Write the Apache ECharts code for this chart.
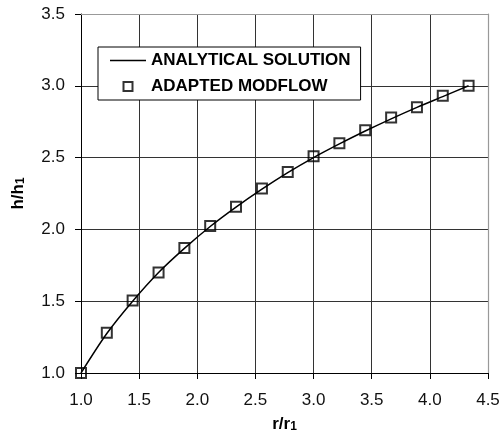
<!DOCTYPE html>
<html>
<head>
<meta charset="utf-8">
<script src="https://cdn.jsdelivr.net/npm/echarts@6/dist/echarts.min.js"></script>
<style>
  html, body { margin: 0; padding: 0; background: #fff; }
  #chart { width: 504px; height: 446px; }
</style>
</head>
<body>
<div id="chart"></div>
<script>
// r/r1 positions of the model cells
const rValues = [1.0, 1.222, 1.444, 1.667, 1.889, 2.111, 2.333, 2.556, 2.778, 3.0, 3.222, 3.444, 3.667, 3.889, 4.111, 4.333]
// h/h1
const hAnalytic = [1.0, 1.275, 1.50, 1.70, 1.868, 2.02, 2.155, 2.28, 2.395, 2.50, 2.595, 2.685, 2.77, 2.85, 2.925, 3.0]
const hModflow = [1.0, 1.28, 1.505, 1.70, 1.87, 2.024, 2.157, 2.285, 2.40, 2.51, 2.60, 2.69, 2.78, 2.85, 2.93, 3.0]

const xTicks = { min: 1.0, max: 4.5, interval: 0.5 }
const yTicks = { min: 1.0, max: 3.5, interval: 0.5 }

const font = 'Liberation Sans, Arial, sans-serif'
const squarePath = 'path://M0,0L10,0L10,10L0,10Z'
const dashPath = 'path://M0,0L36,0L36,1.6L0,1.6Z'

const chart = echarts.init(document.getElementById('chart'))

const titleRich = {
  a: { fontFamily: font, fontSize: 17, fontWeight: 'bold', color: '#000', lineHeight: 24, verticalAlign: 'bottom' },
  b: { fontFamily: font, fontSize: 12, fontWeight: 'bold', color: '#000', lineHeight: 12, verticalAlign: 'bottom' }
}

const valueAxis = (ticks, extra) => Object.assign({
  type: 'value',
  min: ticks.min,
  max: ticks.max,
  interval: ticks.interval,
  axisLine: { show: true, onZero: false, lineStyle: { color: '#000', width: 1 } },
  axisTick: { show: true, inside: false, length: 6, lineStyle: { color: '#000' } },
  splitLine: { show: true, showMinLine: false, showMaxLine: false, lineStyle: { color: '#333', width: 1 } }
}, extra)

const borderAxis = (ticks, extra) => Object.assign({
  type: 'value',
  min: ticks.min,
  max: ticks.max,
  interval: ticks.interval,
  axisLine: { show: true, onZero: false, lineStyle: { color: '#999', width: 1.2 } },
  axisTick: { show: false },
  axisLabel: { show: false },
  splitLine: { show: false }
}, extra)

chart.setOption({
  animation: false,
  backgroundColor: '#fff',
  grid: { left: 81, right: 16, top: 14, bottom: 73, containLabel: false },
  legend: {
    orient: 'vertical',
    left: 98,
    top: 47,
    padding: [5, 10, 5, 12],
    itemGap: 9,
    itemWidth: 36,
    itemHeight: 9,
    itemTextGap: 6,
    symbolKeepAspect: true,
    backgroundColor: '#fff',
    borderColor: '#000',
    borderWidth: 1,
    textStyle: { color: '#000', fontFamily: font, fontSize: 17, fontWeight: 'bold' },
    data: [
      { name: 'ANALYTICAL SOLUTION', icon: dashPath, itemStyle: { color: '#000', borderWidth: 0 } },
      { name: 'ADAPTED MODFLOW', icon: squarePath }
    ]
  },
  xAxis: [
    valueAxis(xTicks, {
      position: 'bottom',
      name: '{a|r/r}{b|1}',
      nameLocation: 'middle',
      nameGap: 36,
      nameTextStyle: { rich: titleRich },
      axisLabel: { color: '#111', fontFamily: font, fontSize: 17, margin: 19, formatter: v => v.toFixed(1) }
    }),
    borderAxis(xTicks, { position: 'top' })
  ],
  yAxis: [
    valueAxis(yTicks, {
      position: 'left',
      name: '{a|h/h}{b|1}',
      nameLocation: 'middle',
      nameRotate: 90,
      nameGap: 54,
      nameTextStyle: { rich: titleRich },
      axisLabel: { color: '#111', fontFamily: font, fontSize: 17, margin: 16, formatter: v => v.toFixed(1) }
    }),
    borderAxis(yTicks, { position: 'right' })
  ],
  series: [
    {
      name: 'ANALYTICAL SOLUTION',
      type: 'line',
      xAxisIndex: 0,
      yAxisIndex: 0,
      data: rValues.map((r, i) => [r, hAnalytic[i]]),
      smooth: 0.3,
      symbol: 'none',
      lineStyle: { color: '#000', width: 1.5 },
      itemStyle: { color: '#000' },
      z: 3
    },
    {
      name: 'ADAPTED MODFLOW',
      type: 'scatter',
      xAxisIndex: 0,
      yAxisIndex: 0,
      data: rValues.map((r, i) => [r, hModflow[i]]),
      symbol: squarePath,
      symbolKeepAspect: true,
      symbolSize: 10,
      itemStyle: { color: 'rgba(0,0,0,0)', borderColor: '#000', borderWidth: 2 },
      z: 4
    }
  ]
})
</script>
</body>
</html>
